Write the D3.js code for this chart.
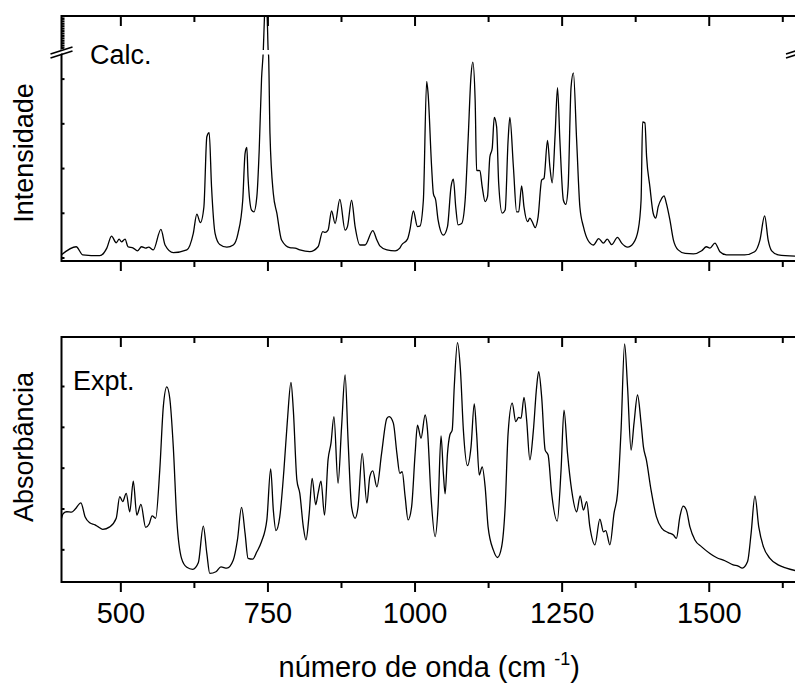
<head>
	<meta charset="utf-8">
	<script src="https://d3js.org/d3.v7.min.js"></script>
	<style>
		body { margin: 0; background: #fff; }
		svg { display: block; font-family: "Liberation Sans", Arial, sans-serif; }
		.tick line { stroke: #000; stroke-width: 2; }
		.tick text { font-size: 29px; fill: #000; }
	</style>
</head>
<body>

<svg width="795" height="684" id="chart"></svg>

<script>

	// calculated spectrum (wavenumber, intensity a.u.)
	var calcX = [400,425,436,465,477,485,493,498,502,508,513,522,529,536,543,548,556,569,576,590,613,624,630,636,642,647,651,655,661,669,681,692,700,708,712,715,717,723,727,732,736,740,743,745,746.7,749.5,751.2,752,754.3,760,766,774,788,797,805,822,836,844,848,853,859,865,873,882,886,893,899,907,916,929,936,941,953,967,975,978,988,992,998,1005,1009,1015,1020.6,1023,1029,1032,1036,1040,1049,1056,1062,1066,1070,1074,1080,1086,1091,1096,1099,1103,1105.5,1111,1115,1120,1124,1128,1132,1135.5,1139.5,1143,1149,1154,1159,1162,1168,1173.5,1177,1182,1186,1192,1196,1200,1205,1210,1216,1220,1226,1230,1234,1239,1243,1247,1253,1257,1261,1266,1270,1275.5,1281,1287,1295,1304,1313,1321,1327.5,1335,1345,1352,1362,1372,1380,1385,1387.6,1391.5,1394.4,1400,1405.6,1410,1414,1420,1424,1428,1434,1440,1448,1460,1474,1488,1496,1502,1510.5,1519,1530,1561,1578,1587,1595,1601,1607,1618,1650];
	var calcY = [0.06,0.24,0.06,0.04,0.21,0.48,0.33,0.41,0.35,0.41,0.24,0.21,0.15,0.24,0.21,0.23,0.17,0.63,0.28,0.11,0.17,0.54,0.97,0.78,1.13,2.70,2.79,1.58,0.54,0.29,0.23,0.28,0.54,1.28,2.33,2.46,1.80,1.06,1.02,1.36,2.40,4.0,12,19,22,19,12,4.5,2.77,1.43,0.99,0.39,0.22,0.21,0.17,0.13,0.24,0.58,0.56,0.61,1.04,0.76,1.30,0.61,0.69,1.28,0.69,0.28,0.28,0.60,0.39,0.26,0.17,0.15,0.21,0.28,0.41,0.61,1.04,0.69,0.70,1.28,3.94,3.67,2.03,1.43,1.28,0.84,0.50,0.69,1.58,1.75,1.13,0.73,0.76,1.28,2.62,4.07,4.37,3.52,1.95,1.94,1.58,1.25,1.36,2.25,2.44,3.13,2.92,1.66,0.99,1.06,2.62,3.13,2.03,1.02,1.02,1.60,1.13,0.80,0.88,0.80,0.67,0.91,1.73,1.77,2.62,2.03,1.67,2.77,3.80,2.62,1.28,1.19,1.58,3.81,4.13,2.62,1.13,0.69,0.38,0.28,0.42,0.32,0.41,0.29,0.45,0.32,0.23,0.32,0.61,1.28,3.03,3.01,2.25,1.58,0.99,0.88,1.13,1.32,1.38,1.21,0.84,0.39,0.17,0.09,0.08,0.15,0.24,0.21,0.32,0.13,0.06,0.06,0.13,0.39,0.93,0.39,0.15,0.06,0.03];

	// experimental spectrum (wavenumber, absorbance a.u.)
	var exptX = [400,403,409,417,423,433,440,448,457,462.5,470,482,493,499,504,510,516,522,528,535,543,549,554,560,567,573,579,584,590,596,604,613,623,632.5,641,647,652,662.5,671,681,692,699,706,712,717,725,732,740,749,755.5,760,764.5,771,778,784,790,794,800,805,811,815.5,821,826,832,836,841,847,853,858,863,870,876,882,887,893,899,904,911,919,924,929,936,944,953,957,964,970,975,979,984,989,995,1001,1005,1011,1018,1022,1028,1035,1040,1045,1049,1052,1056,1060,1064,1067.5,1073,1078,1083,1090,1096,1101.5,1105.5,1110,1115,1120,1125,1134,1141,1148,1154,1159,1166,1172,1177,1181,1186,1190.5,1196,1202,1207.5,1211,1216,1222,1227,1233,1242.5,1249,1254,1260,1267,1275.5,1281.5,1287,1292.5,1298,1306.5,1315,1321,1325,1332,1339,1345,1351,1357,1362,1368,1373,1379,1385,1389,1394,1402,1411,1420,1431,1440,1445,1451,1456.5,1462,1468,1476.5,1488,1502,1513,1527.5,1541.5,1550,1557,1566,1572,1578.5,1585,1593,1604,1618,1632,1650];
	var exptY = [1.76,1.88,1.92,1.91,1.98,2.14,1.80,1.65,1.60,1.55,1.49,1.55,1.76,2.29,2.17,2.37,1.92,2.67,1.84,2.10,1.54,1.62,1.82,1.76,2.94,4.49,4.98,4.70,3.51,1.72,0.78,0.56,0.51,0.67,1.57,0.90,0.41,0.45,0.57,0.54,0.74,1.23,2.03,1.39,0.78,0.76,0.94,1.19,1.72,2.97,1.96,1.46,1.80,2.94,4.17,5.09,4.41,2.70,2.37,1.55,1.23,1.88,2.74,2.09,2.37,2.67,1.84,3.19,3.60,4.25,2.62,4.00,5.27,3.68,2.04,1.76,2.04,3.35,2.13,2.78,2.92,2.53,3.35,4.21,4.25,4.09,3.35,2.86,2.90,2.29,1.72,2.04,3.35,4.04,3.72,4.29,3.92,2.29,1.31,2.04,3.78,2.86,2.36,3.35,3.80,3.92,4.98,6.06,5.39,3.92,3.05,3.51,4.56,3.84,2.82,3.02,2.53,1.55,0.98,0.80,1.06,2.04,3.84,4.58,4.13,4.23,4.21,4.72,4.17,3.19,3.92,4.98,5.35,4.74,3.43,3.31,2.37,1.69,2.94,4.41,3.35,2.45,1.92,2.31,1.96,2.17,1.55,1.11,1.74,1.43,1.46,1.11,1.88,2.37,3.92,6.03,4.98,3.43,4.09,4.78,4.09,3.51,3.19,2.45,1.80,1.52,1.41,1.35,1.27,1.80,2.06,1.96,1.55,1.23,1.06,0.90,0.80,0.72,0.62,0.59,0.54,0.70,1.39,2.31,1.55,1.06,0.78,0.62,0.54,0.47];

	var majorTicks = [500, 750, 1000, 1250, 1500];
	var minorTicks = [625, 875, 1125, 1375, 1625];
	var calcTicksLow = [0, 1, 2, 3, 4];
	var calcTicksHigh = d3.range(12, 19.01, 0.5);
	var exptTicks = [1, 2, 3, 4, 5];

	var svg = d3.select("#chart");

	var left = 61.5, right = 797;
	var top1 = 16, bot1 = 261, top2 = 337, bot2 = 582;

	var x = d3.scaleLinear().domain([400, 1650]).range([left, right]);

	// broken y axis for the calculated panel
	var yCalc = d3.scaleLinear()
		.domain([0, 4.55, 12, 19])
		.range([257.5, 54, 50, top1]);

	var yExpt = d3.scaleLinear().domain([0.2, 6.2]).range([bot2, top2]);

	var defs = svg.append("defs");
	defs.append("clipPath").attr("id", "clip1")
		.append("rect").attr("x", left).attr("y", top1).attr("width", right - left).attr("height", bot1 - top1);
	defs.append("clipPath").attr("id", "clip2")
		.append("rect").attr("x", left).attr("y", top2).attr("width", right - left).attr("height", bot2 - top2);

	var calc = calcX.map((d, i) => [d, calcY[i]]);
	var expt = exptX.map((d, i) => [d, exptY[i]]);

	svg.append("path")
		.datum(calc)
		.attr("clip-path", "url(#clip1)")
		.attr("fill", "none")
		.attr("stroke", "#000")
		.attr("stroke-width", 1.3)
		.attr("d", d3.line().x(d => x(d[0])).y(d => yCalc(d[1])).curve(d3.curveMonotoneX));

	svg.append("path")
		.datum(expt)
		.attr("clip-path", "url(#clip2)")
		.attr("fill", "none")
		.attr("stroke", "#000")
		.attr("stroke-width", 1.3)
		.attr("d", d3.line().x(d => x(d[0])).y(d => yExpt(d[1])).curve(d3.curveMonotoneX));

	// gap where the intensity axis is broken
	svg.append("rect")
		.attr("x", left + 1.5).attr("y", yCalc(12))
		.attr("width", right - left - 3).attr("height", yCalc(4.55) - yCalc(12) + 0.5)
		.attr("fill", "#fff");

	// frames
	[[top1, bot1], [top2, bot2]].forEach(function(p) {
		svg.append("rect")
			.attr("x", left).attr("y", p[0])
			.attr("width", right - left).attr("height", p[1] - p[0])
			.attr("fill", "none").attr("stroke", "#000").attr("stroke-width", 2);
	});

	function xTicks(yPos, labels) {
		var gMaj = svg.append("g")
			.attr("transform", "translate(0," + yPos + ")")
			.call(d3.axisBottom(x).tickValues(majorTicks).tickSizeInner(10).tickSizeOuter(0).tickPadding(10.5)
				.tickFormat(labels ? d3.format("d") : ""));
		gMaj.select(".domain").remove();
		var gMin = svg.append("g")
			.attr("transform", "translate(0," + yPos + ")")
			.call(d3.axisBottom(x).tickValues(minorTicks).tickSizeInner(6).tickSizeOuter(0).tickFormat(""));
		gMin.select(".domain").remove();
	}

	xTicks(top1, false);
	xTicks(bot1, false);
	xTicks(top2, false);
	xTicks(bot2, true);

	function yTicks(scale, values) {
		var g = svg.append("g")
			.attr("transform", "translate(" + left + ",0)")
			.call(d3.axisRight(scale).tickValues(values).tickSizeInner(3).tickSizeOuter(0).tickFormat(""));
		g.select(".domain").remove();
		g.selectAll(".tick line").attr("stroke-width", 1.5);
	}

	yTicks(yCalc, calcTicksLow);
	yTicks(yCalc, calcTicksHigh);
	yTicks(yExpt, exptTicks);

	// break marks on the intensity axis
	var yb = (yCalc(12) + yCalc(4.55)) / 2;
	[left, right].forEach(function(cx) {
		svg.append("path")
			.attr("d", `M${cx - 11},${yb + 1} L${cx + 11},${yb - 6} L${cx + 11},${yb - 2} L${cx - 11},${yb + 5} Z`)
			.attr("fill", "#fff");
		[-1.5, 2.5].forEach(function(o) {
			svg.append("line")
				.attr("x1", cx - 11).attr("y1", yb + 3.5 + o)
				.attr("x2", cx + 11).attr("y2", yb - 3.5 + o)
				.attr("stroke", "#000").attr("stroke-width", 1.6);
		});
	});

	svg.append("text")
		.attr("x", 90).attr("y", 64)
		.attr("font-size", 27)
		.text("Calc.");

	svg.append("text")
		.attr("x", 73).attr("y", 390)
		.attr("font-size", 27)
		.text("Expt.");

	svg.append("text")
		.attr("transform", "translate(33,153) rotate(-90)")
		.attr("text-anchor", "middle")
		.attr("font-size", 27)
		.text("Intensidade");

	svg.append("text")
		.attr("transform", "translate(33,447) rotate(-90)")
		.attr("text-anchor", "middle")
		.attr("font-size", 27)
		.text("Absorbância");

	var xl = svg.append("text")
		.attr("x", (left + right) / 2).attr("y", 677)
		.attr("text-anchor", "middle")
		.attr("font-size", 29);
	xl.append("tspan").text("número de onda (cm ");
	xl.append("tspan").attr("font-size", 18).attr("dy", -12).text("-1");
	xl.append("tspan").attr("dy", 12).text(")");

</script>
</body>
